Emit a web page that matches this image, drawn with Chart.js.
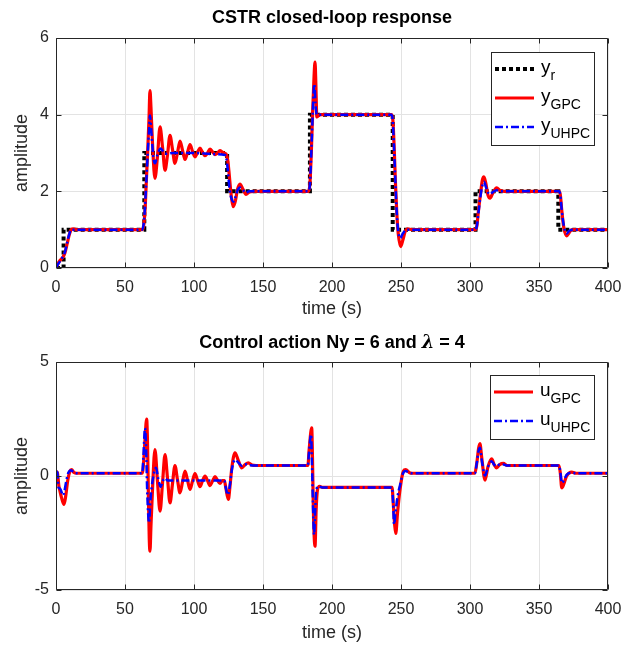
<!DOCTYPE html>
<html><head><meta charset="utf-8">
<script src="https://cdn.jsdelivr.net/npm/chart.js@4.4.0/dist/chart.umd.min.js"></script>
<style>
html,body{margin:0;padding:0;background:#fff;}
#wrap{position:relative;width:625px;height:651px;overflow:hidden;}
canvas{position:absolute;left:0;}
</style></head><body>
<div id="wrap">
<canvas id="c1" width="625" height="325" style="top:0"></canvas>
<canvas id="c2" width="625" height="326" style="top:325px"></canvas>
</div>
<script>
// ---------- DATA ----------
const xTickValues = [0, 50, 100, 150, 200, 250, 300, 350, 400];
const yTickValuesTop = [0, 2, 4, 6];
const yTickValuesBottom = [-5, 0, 5];

// reference (setpoint), step-wise
const tRef = [0, 5.5, 64, 124, 184, 244, 304, 364, 400];
const yRef = [0, 1, 3, 2, 4, 1, 2, 1, 1];

// GPC output
const tYGPC = [0,1.5,3,5,6.5,8,9.5,11,12.5,15,62.5,63.5,64.5,65.5,66.5,67.4,68.1,68.8,70,71.7,73.5,75.4,77.2,79,80.8,82.6,84.4,86.2,88,89.9,91.7,93.5,95.3,97.1,98.9,100.7,102.5,104.3,106.1,108,109.8,111.6,113.4,115.2,117,118.8,120.6,122.5,123.5,124.5,125.5,126.5,127.5,128.5,130,131.5,133.3,135.5,137.7,140,143,183,184,185,186,187,187.7,188.3,189,190,192,243,244,245,246,247,248,249.8,251.5,253,255,258,304,305,306,307.5,309,310.1,311.5,313,314.5,316.5,319.3,322,325,364.5,365.5,366.5,368,370,372,374,400];
const yGPC  = [0,0.12,0.2,0.28,0.4,0.62,0.85,1.0,1.02,1.0,1.0,1.1,1.5,2.3,3.1,3.9,4.63,4.2,3.2,2.34,2.9,3.68,3.15,2.55,2.95,3.46,3.1,2.73,3.0,3.31,3.07,2.83,3.02,3.22,3.05,2.9,3.01,3.13,3.02,2.93,3.0,3.1,3.03,2.96,3.0,3.06,3.02,2.99,2.96,2.8,2.45,2.05,1.75,1.6,1.75,2.05,2.19,2.05,1.92,1.98,2.0,2.0,2.2,3.0,4.1,5.0,5.37,4.8,3.94,3.97,4.0,4.0,3.9,3.2,2.2,1.4,0.9,0.56,0.75,0.95,1.02,1.0,1.0,1.1,1.45,1.9,2.3,2.38,2.2,1.9,1.82,1.95,2.09,2.02,2.0,2.0,1.9,1.5,1.05,0.84,0.93,1.0,1.0];

// UHPC output
const tYUHPC = [0,1.5,3,5,6.5,8,9.5,11,15,62.5,63.5,64.5,65.5,66.5,67.4,68.1,69,70.5,71.7,73.5,75.8,78,80,85,100,115,122.5,123.5,124.5,125.5,126.5,127.5,128.5,130,131.5,133.3,135.5,137.7,140,183,184,185,186,187.2,188,189,192,243,244,245,246,247,248,249.5,251,253,255,304,305,306,307.5,309,310.1,311.5,313,314.5,316.5,319.3,322,364.5,365.5,366.5,368,370,372,374,400];
const yUHPC = [0,0.1,0.18,0.3,0.42,0.65,0.87,1.0,1.0,1.0,1.15,1.6,2.3,3.0,3.6,3.98,3.6,2.9,2.73,2.95,3.12,3.02,2.98,3.0,3.0,2.97,2.95,2.85,2.55,2.15,1.9,1.78,1.73,1.85,2.02,2.1,2.03,1.96,2.0,2.0,2.2,3.0,4.0,4.8,4.3,4.0,4.0,4.0,3.85,3.1,2.2,1.4,0.95,0.78,0.88,0.98,1.0,1.0,1.1,1.4,1.85,2.15,2.25,2.12,1.97,1.92,1.98,2.03,2.0,2.0,1.9,1.5,1.1,0.9,0.97,1.0,1.0];

// GPC control action
const tUGPC = [0,1,2,3,4,5.8,7,8.5,10,11.3,13,15,62.5,63.5,64.5,65.7,66.3,67,67.6,68.1,68.8,70,71.7,73.5,75.4,77.2,79,80.8,82.6,84.4,86.2,88,89.9,91.7,93.5,95.3,97.1,98.9,100.7,102.5,104.3,106.1,108,109.8,111.6,113.4,115.2,117,118.8,120.6,122,123,124.9,126,127.5,129.7,132,134.6,137,139.4,142,145,182.5,183.5,185.3,185.8,186.5,187.7,188.5,189.5,191,193,243.5,244.5,245.5,246.2,247.5,249.3,251.7,253.4,256,258,303.5,305,306.2,307.2,308.5,310.9,313,315.7,317.5,319.3,321.5,324.2,327,364.5,365.5,366.5,368,370,373.7,377,400];
const uGPC  = [0.2,0.15,-0.4,-0.7,-0.95,-1.25,-0.9,-0.2,0.2,0.28,0.15,0.12,0.12,0.6,1.6,2.5,1.5,-1.0,-2.8,-3.3,-2.2,-0.5,1.16,-0.2,-1.54,-0.3,0.94,-0.1,-1.18,-0.35,0.46,-0.15,-0.74,-0.25,0.21,-0.18,-0.59,-0.23,0.11,-0.18,-0.47,-0.22,0.0,-0.2,-0.42,-0.22,-0.03,-0.18,-0.33,-0.2,-0.2,-0.5,-1.03,-0.5,0.4,1.02,0.7,0.36,0.5,0.58,0.48,0.46,0.46,1.2,2.11,1.0,-1.5,-3.08,-1.5,-0.6,-0.45,-0.5,-0.5,-1.3,-2.2,-2.52,-1.6,-0.59,0.21,0.28,0.15,0.12,0.12,0.6,1.2,1.42,0.8,-0.18,0.4,0.75,0.5,0.36,0.5,0.55,0.46,0.46,0.1,-0.52,-0.35,0.0,0.17,0.12,0.12];

// UHPC control action
const tUUHPC = [0,1,1.8,3,4,5,6,7.5,9,11,13,15,62.5,63.3,64.5,65.3,66,67.4,68.5,70,72.5,74,75.8,77.5,79,81,122,123,124.5,126,127.5,129.7,132,134.6,137,140,145,182.5,183.3,184.8,185.5,186.2,187,187.8,188.5,190,193,243.5,244.3,245,246,247.5,249.3,251.7,253.4,256,258,303.5,305,306.2,307.2,308.5,310.9,313,315.7,317.5,319.3,321.5,324.2,327,364.5,365.5,366.5,368,370,373.7,377,400];
const uUHPC = [0.2,0.15,-0.5,-0.55,-0.7,-0.85,-0.7,-0.2,0.15,0.25,0.15,0.12,0.12,0.8,2.1,1.2,-0.5,-2.05,-1.0,-0.2,0.36,-0.1,-0.47,-0.2,-0.1,-0.2,-0.2,-0.5,-0.83,-0.4,0.3,0.72,0.6,0.45,0.52,0.48,0.46,0.46,1.0,1.82,0.5,-1.2,-2.57,-1.5,-0.7,-0.45,-0.5,-0.5,-1.2,-2.13,-1.6,-0.9,-0.4,0.15,0.22,0.14,0.12,0.12,0.6,1.1,1.24,0.7,0.02,0.4,0.65,0.5,0.42,0.5,0.5,0.46,0.46,0.15,-0.3,-0.2,0.05,0.15,0.12,0.12];

// ---------- STYLE / HELPERS ----------
const FONT = '"Liberation Sans", Arial, Helvetica, sans-serif';
const AX = '#262626';
const RED = '#ff0000', BLUE = '#0000ff';
const pts = (t, v) => t.map((x, i) => ({x, y: v[i]}));

function frameAndText(opts) {
  return {
    id: 'frameText',
    afterDraw(chart) {
      const {ctx, chartArea: a, scales: {x, y}} = chart;
      ctx.save();
      ctx.strokeStyle = AX; ctx.lineWidth = 1;
      const L = a.left + 0.5, R = a.right - 0.5, T = a.top + 0.5, B = a.bottom - 0.5;
      ctx.beginPath();
      ctx.rect(L, T, R - L, B - T);
      x.ticks.forEach(tk => {
        const px = Math.round(x.getPixelForValue(tk.value)) + 0.5;
        ctx.moveTo(px, B); ctx.lineTo(px, B - 5);
        ctx.moveTo(px, T); ctx.lineTo(px, T + 5);
      });
      y.ticks.forEach(tk => {
        const py = Math.round(y.getPixelForValue(tk.value)) + 0.5;
        ctx.moveTo(L, py); ctx.lineTo(L + 5, py);
        ctx.moveTo(R, py); ctx.lineTo(R - 5, py);
      });
      ctx.stroke();

      // title (possibly mixed fonts)
      ctx.fillStyle = '#000';
      ctx.textBaseline = 'middle';
      let total = 0;
      opts.title.forEach(p => { ctx.font = p.f; total += ctx.measureText(p.t).width; });
      let cx = (a.left + a.right) / 2 - total / 2;
      ctx.textAlign = 'left';
      opts.title.forEach(p => { ctx.font = p.f; ctx.fillText(p.t, cx, opts.titleY); cx += ctx.measureText(p.t).width; });

      // axis titles
      ctx.fillStyle = AX;
      ctx.font = '18px ' + FONT;
      ctx.textAlign = 'center';
      ctx.fillText('time (s)', (a.left + a.right) / 2, opts.xTitleY);
      ctx.save();
      ctx.translate(22, (a.top + a.bottom) / 2);
      ctx.rotate(-Math.PI / 2);
      ctx.fillText('amplitude', 0, 0);
      ctx.restore();

      // legend
      const lg = opts.legend;
      ctx.fillStyle = '#fff';
      ctx.fillRect(lg.x, lg.y, lg.w, lg.h);
      ctx.strokeStyle = AX; ctx.lineWidth = 1;
      ctx.strokeRect(lg.x + 0.5, lg.y + 0.5, lg.w - 1, lg.h - 1);
      lg.items.forEach((it, i) => {
        const ry = lg.y + lg.first + i * lg.step;
        ctx.save();
        ctx.strokeStyle = it.color; ctx.lineWidth = it.width;
        ctx.setLineDash(it.dash);
        ctx.lineCap = 'butt';
        ctx.beginPath(); ctx.moveTo(lg.x + 4, ry); ctx.lineTo(lg.x + 43, ry); ctx.stroke();
        ctx.restore();
        ctx.fillStyle = '#000';
        ctx.textAlign = 'left';
        ctx.textBaseline = 'alphabetic';
        ctx.font = '19px ' + FONT;
        const bx = lg.x + 50;
        ctx.fillText(it.base, bx, ry + 4);
        const bw = ctx.measureText(it.base).width;
        ctx.font = '14px ' + FONT;
        ctx.fillText(it.sub, bx + bw, ry + 11);
      });
      ctx.restore();
    }
  };
}

function makeChart(id, datasets, yMin, yMax, xHeight, extra) {
  return new Chart(document.getElementById(id), {
    type: 'line',
    data: {datasets},
    options: {
      responsive: false,
      animation: false,
      events: [],
      layout: {padding: {left: 0, right: 17, top: extra.top, bottom: 0}},
      plugins: {legend: {display: false}, title: {display: false}, tooltip: {enabled: false}},
      elements: {point: {radius: 0}, line: {cubicInterpolationMode: 'monotone'}},
      scales: {
        x: {
          type: 'linear', min: 0, max: 400,
          afterBuildTicks: s => { s.ticks = xTickValues.map(v => ({value: v})); },
          ticks: {font: {family: FONT, size: 16}, color: AX, padding: 10, maxRotation: 0},
          grid: {color: '#e3e3e3', lineWidth: 1, drawTicks: false},
          border: {display: false},
          afterFit: s => { s.height = xHeight; s.paddingLeft = 0; s.paddingRight = 0; }
        },
        y: {
          type: 'linear', min: yMin, max: yMax,
          afterBuildTicks: s => { s.ticks = extra.yTicks.map(v => ({value: v})); },
          ticks: {font: {family: FONT, size: 16}, color: AX, padding: 7},
          grid: {color: '#e3e3e3', lineWidth: 1, drawTicks: false},
          border: {display: false},
          afterFit: s => { s.width = 56; s.paddingTop = 0; s.paddingBottom = 0; }
        }
      }
    },
    plugins: [frameAndText(extra)]
  });
}

const BOLD = 'bold 18px ' + FONT;

makeChart('c1', [
  {label: 'y_r', data: pts(tRef, yRef), stepped: true, borderColor: '#000', borderWidth: 4, borderDash: [4, 3], borderCapStyle: 'butt', order: 3},
  {label: 'y_GPC', data: pts(tYGPC, yGPC), borderColor: RED, borderWidth: 3.2, order: 2},
  {label: 'y_UHPC', data: pts(tYUHPC, yUHPC), borderColor: BLUE, borderWidth: 2.5, borderDash: [8, 3, 2, 3], order: 1}
], 0, 6, 57, {
  top: 38, yTicks: yTickValuesTop,
  title: [{t: 'CSTR closed-loop response', f: BOLD}], titleY: 18, xTitleY: 309,
  legend: {x: 491, y: 52, w: 104, h: 94, first: 17, step: 29, items: [
    {base: 'y', sub: 'r', color: '#000', width: 4, dash: [4, 3]},
    {base: 'y', sub: 'GPC', color: RED, width: 3, dash: []},
    {base: 'y', sub: 'UHPC', color: BLUE, width: 2.5, dash: [8, 3, 2, 3]}
  ]}
});

makeChart('c2', [
  {label: 'u_GPC', data: pts(tUGPC, uGPC), borderColor: RED, borderWidth: 3.2, order: 2},
  {label: 'u_UHPC', data: pts(tUUHPC, uUHPC), borderColor: BLUE, borderWidth: 2.5, borderDash: [8, 3, 2, 3], order: 1}
], -5, 5, 61, {
  top: 37, yTicks: yTickValuesBottom,
  title: [{t: 'Control action Ny = 6 and ', f: BOLD}, {t: 'λ', f: 'italic bold 18px "DejaVu Serif", serif'}, {t: ' = 4', f: BOLD}], titleY: 18, xTitleY: 308,
  legend: {x: 490, y: 50, w: 105, h: 65, first: 17, step: 29, items: [
    {base: 'u', sub: 'GPC', color: RED, width: 3, dash: []},
    {base: 'u', sub: 'UHPC', color: BLUE, width: 2.5, dash: [8, 3, 2, 3]}
  ]}
});
</script>
</body></html>
